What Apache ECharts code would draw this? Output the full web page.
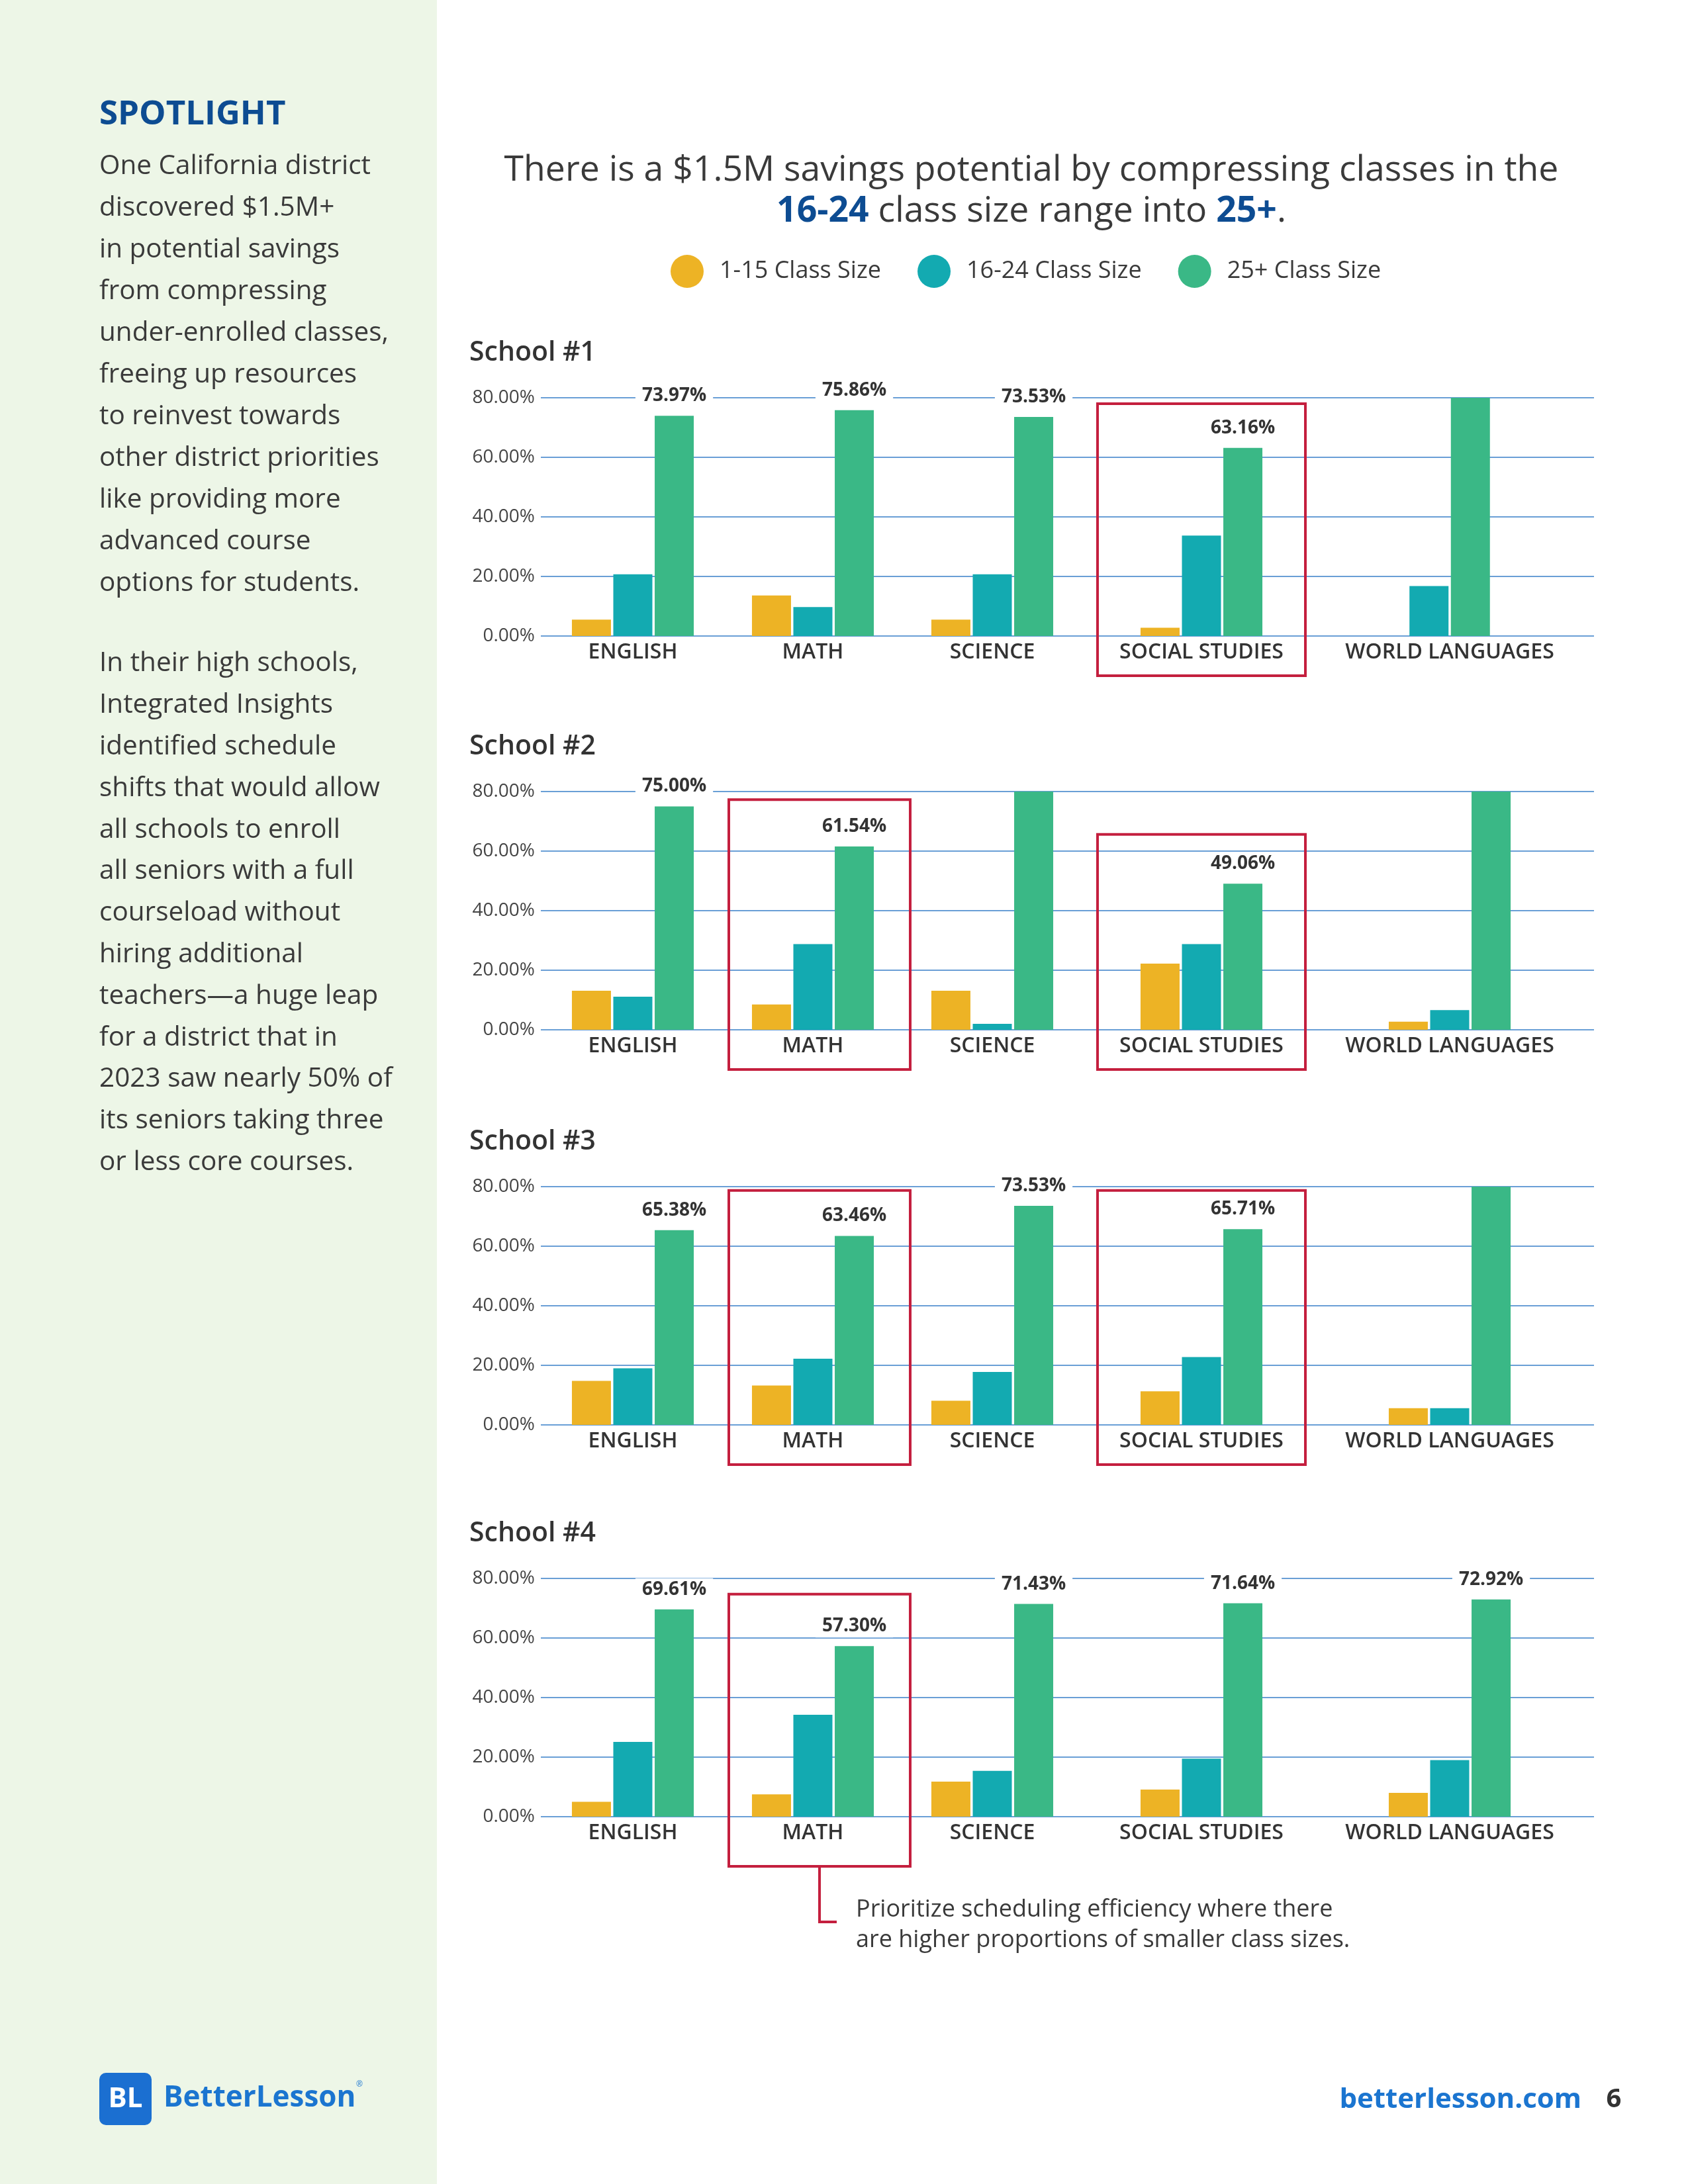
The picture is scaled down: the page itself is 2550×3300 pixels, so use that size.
<!DOCTYPE html>
<html><head><meta charset="utf-8">
<script src="https://cdn.jsdelivr.net/npm/echarts@6/dist/echarts.min.js"></script>
<style>html,body{margin:0;padding:0;background:#fff}#c{width:2550px;height:3300px}</style>
</head><body><div id="c"></div>
<script>
// ---------- DATA ----------
const categories = ['ENGLISH', 'MATH', 'SCIENCE', 'SOCIAL STUDIES', 'WORLD LANGUAGES'];
const schoolNames = ['School #1', 'School #2', 'School #3', 'School #4'];
const seriesNames = ['1-15 Class Size', '16-24 Class Size', '25+ Class Size'];
const yTicks = [0, 20, 40, 60, 80];

const school1Small = [5.5, 13.6, 5.5, 2.8, null];
const school1Mid   = [20.7, 9.7, 20.7, 33.7, 16.8];
const school1Large = [73.97, 75.86, 73.53, 63.16, 83.2];

const school2Small = [13.1, 8.5, 13.1, 22.2, 2.7];
const school2Mid   = [11.1, 28.8, 2.0, 28.8, 6.6];
const school2Large = [75.00, 61.54, 84.9, 49.06, 90.7];

const school3Small = [14.8, 13.2, 8.1, 11.3, 5.6];
const school3Mid   = [19.0, 22.2, 17.8, 22.8, 5.6];
const school3Large = [65.38, 63.46, 73.53, 65.71, 88.8];

const school4Small = [5.0, 7.5, 11.8, 9.1, 8.0];
const school4Mid   = [25.1, 34.2, 15.4, 19.5, 19.0];
const school4Large = [69.61, 57.30, 71.43, 71.64, 72.92];

const schoolData = [
  [school1Small, school1Mid, school1Large],
  [school2Small, school2Mid, school2Large],
  [school3Small, school3Mid, school3Large],
  [school4Small, school4Mid, school4Large]
];

// highlighted (boxed) categories: top edge given in axis units (%)
const highlights = [
  { school: 0, cat: 'SOCIAL STUDIES', top: 78.0 },
  { school: 1, cat: 'MATH', top: 77.3 },
  { school: 1, cat: 'SOCIAL STUDIES', top: 65.6 },
  { school: 2, cat: 'MATH', top: 78.7 },
  { school: 2, cat: 'SOCIAL STUDIES', top: 78.7 },
  { school: 3, cat: 'MATH', top: 74.7 }
];

// ---------- STYLE / LAYOUT ----------
const FONT = '"Open Sans", Lato, sans-serif';
const colors = ['#EDB325', '#13AAB1', '#3AB886'];
const gridTops = [601, 1196, 1793, 2385];
const gridH = 360;
const groupCenters = [956, 1228, 1499, 1815, 2190]; // layout of the category groups
const groupW = 240;
const TEXT = '#3a3a3a';
const RED = '#C41F3E';
const BLUE = '#0D4C92';

const grids = [], xAxes = [], yAxes = [], series = [];
const catAxis = []; // catAxis[school][cat] -> axis index
gridTops.forEach((top, i) => {
  // grid for gridlines + y labels
  let g = grids.length;
  grids.push({ left: 817, width: 1591, top: top, height: gridH });
  xAxes.push({ gridIndex: g, type: 'value', min: 0, max: 1, show: false });
  yAxes.push({
    gridIndex: g, type: 'value', min: yTicks[0], max: yTicks[yTicks.length - 1], interval: 20,
    axisLine: { show: false }, axisTick: { show: false },
    axisLabel: { margin: 9, fontFamily: FONT, fontSize: 28, color: '#444', formatter: v => v.toFixed(2) + '%' },
    splitLine: { show: true, lineStyle: { color: '#6A9FD6', width: 2 } }
  });
  catAxis.push([]);
  categories.forEach((cat, j) => {
    g = grids.length;
    grids.push({ left: groupCenters[j] - groupW / 2, width: groupW, top: top, height: gridH });
    xAxes.push({
      gridIndex: g, type: 'category', data: [cat],
      axisLine: { show: false }, axisTick: { show: false },
      axisLabel: { interval: 0, margin: 9, fontFamily: FONT, fontSize: 32, fontWeight: 600, color: '#333' }
    });
    yAxes.push({ gridIndex: g, type: 'value', min: 0, max: 80, interval: 20, show: false, splitLine: { show: false } });
    const ax = xAxes.length - 1;
    catAxis[i].push(ax);
    schoolData[i].forEach((arr, k) => {
      const v = arr[j];
      if (v == null) return;
      const s = {
        name: seriesNames[k], type: 'bar', xAxisIndex: ax, yAxisIndex: ax,
        barWidth: 59, barGap: '6%', itemStyle: { color: colors[k] }, clip: true,
        data: [v]
      };
      if (k === 2) {
        s.data = [v > 80 ? { value: v, label: { show: false } } : v];
        s.label = {
          show: true, position: 'top', distance: 13,
          formatter: p => Number(p.value).toFixed(2) + '%',
          fontFamily: FONT, fontSize: 28, fontWeight: 'bold', color: '#333',
          backgroundColor: '#fff', padding: [3, 10]
        };
      }
      series.push(s);
    });
  });
});

const sidebarP1 = ['One California district', 'discovered $1.5M+', 'in potential savings', 'from compressing',
  'under-enrolled classes,', 'freeing up resources', 'to reinvest towards', 'other district priorities',
  'like providing more', 'advanced course', 'options for students.'];
const sidebarP2 = ['In their high schools,', 'Integrated Insights', 'identified schedule', 'shifts that would allow',
  'all schools to enroll', 'all seniors with a full', 'courseload without', 'hiring additional',
  'teachers\u2014a huge leap', 'for a district that in', '2023 saw nearly 50% of', 'its seniors taking three',
  'or less core courses.'];

const baseGraphics = [
  { type: 'rect', z: -10, shape: { x: 0, y: 0, width: 660, height: 3300 }, style: { fill: '#EDF6E7' } },
  { type: 'text', x: 150, y: 173, style: { text: 'SPOTLIGHT', fontFamily: FONT, fontSize: 51, fontWeight: 'bold', fill: BLUE, textVerticalAlign: 'middle' } },
  { type: 'text', x: 150, y: 251 - 31.5, style: { text: sidebarP1.join('\n'), fontFamily: FONT, fontSize: 40.5, lineHeight: 63, fill: TEXT, textVerticalAlign: 'top' } },
  { type: 'text', x: 150, y: 1003 - 31.5, style: { text: sidebarP2.join('\n'), fontFamily: FONT, fontSize: 40.5, lineHeight: 62.8, fill: TEXT, textVerticalAlign: 'top' } },
  { type: 'text', x: 1558, y: 258, style: { text: 'There is a $1.5M savings potential by compressing classes in the', fontFamily: FONT, fontSize: 53.5, fill: TEXT, textAlign: 'center', textVerticalAlign: 'middle' } },
  { type: 'text', x: 1558, y: 320, style: { text: '{b|16-24} class size range into {b|25+}.', fontFamily: FONT, fontSize: 53.5, fill: TEXT, textAlign: 'center', textVerticalAlign: 'middle',
      rich: { b: { fontFamily: FONT, fontSize: 53.5, fontWeight: 'bold', fill: BLUE } } } },
  // footer
  { type: 'rect', shape: { x: 150, y: 3132, width: 79, height: 79, r: 10 }, style: { fill: '#1B6FD1' } },
  { type: 'text', x: 189.5, y: 3172, style: { text: 'BL', fontFamily: FONT, fontSize: 42, fontWeight: 'bold', fill: '#fff', textAlign: 'center', textVerticalAlign: 'middle' } },
  { type: 'text', x: 247, y: 3170, style: { text: 'BetterLesson', fontFamily: FONT, fontSize: 44, fontWeight: 'bold', fill: '#1B75D0', textVerticalAlign: 'middle' } },
  { type: 'text', x: 538, y: 3150, style: { text: '\u00AE', fontFamily: FONT, fontSize: 12, fill: '#1B75D0', textVerticalAlign: 'middle' } },
  { type: 'text', x: 2389, y: 3173, style: { text: 'betterlesson.com', fontFamily: FONT, fontSize: 42, fontWeight: 'bold', fill: '#1B75D0', textAlign: 'right', textVerticalAlign: 'middle' } },
  { type: 'text', x: 2438, y: 3173, style: { text: '6', fontFamily: FONT, fontSize: 40, fontWeight: 'bold', fill: '#333', textAlign: 'center', textVerticalAlign: 'middle' } },
  // annotation
  { type: 'text', x: 1293, y: 2863, style: { text: 'Prioritize scheduling efficiency where there\nare higher proportions of smaller class sizes.', fontFamily: FONT, fontSize: 36, lineHeight: 46, fill: TEXT, textVerticalAlign: 'top' } }
];
schoolNames.forEach((n, i) => {
  baseGraphics.push({ type: 'text', x: 709, y: gridTops[i] - 68, style: { text: n, fontFamily: FONT, fontSize: 41, fontWeight: 600, fill: '#333', textVerticalAlign: 'middle' } });
});

const chart = echarts.init(document.getElementById('c'), null, { renderer: 'canvas' });
chart.setOption({
  backgroundColor: '#fff',
  animation: false,
  legend: {
    top: 380, left: 1008, itemWidth: 50, itemHeight: 50, itemGap: 55, icon: 'circle',
    selectedMode: false, data: seriesNames,
    textStyle: { fontFamily: FONT, fontSize: 36, color: TEXT, padding: [0, 0, 0, 19] }
  },
  grid: grids, xAxis: xAxes, yAxis: yAxes, series: series,
  graphic: baseGraphics
});

// red highlight boxes, positioned through the axes
const boxGraphics = [];
highlights.forEach(h => {
  const ax = catAxis[h.school][categories.indexOf(h.cat)];
  const cx = chart.convertToPixel({ xAxisIndex: ax }, h.cat);
  const yTop = chart.convertToPixel({ yAxisIndex: ax }, h.top);
  const y0 = chart.convertToPixel({ yAxisIndex: ax }, 0);
  const w = h.cat === 'MATH' ? 274 : 314;
  const below = h.school === 3 ? 75 : 60;
  boxGraphics.push({ type: 'rect', z: 100, shape: { x: cx - w / 2 + (h.cat === 'MATH' ? 10 : 0), y: yTop, width: w, height: y0 + below - yTop },
    style: { fill: 'none', stroke: RED, lineWidth: 4 } });
  if (h.school === 3) {
    const yb = y0 + below;
    const mx = cx + 10;
    boxGraphics.push({ type: 'polyline', z: 100, shape: { points: [[mx, yb], [mx, yb + 84], [mx + 26, yb + 84]] },
      style: { fill: 'none', stroke: RED, lineWidth: 4 } });
  }
});
chart.setOption({ graphic: baseGraphics.concat(boxGraphics) });
</script></body></html>
